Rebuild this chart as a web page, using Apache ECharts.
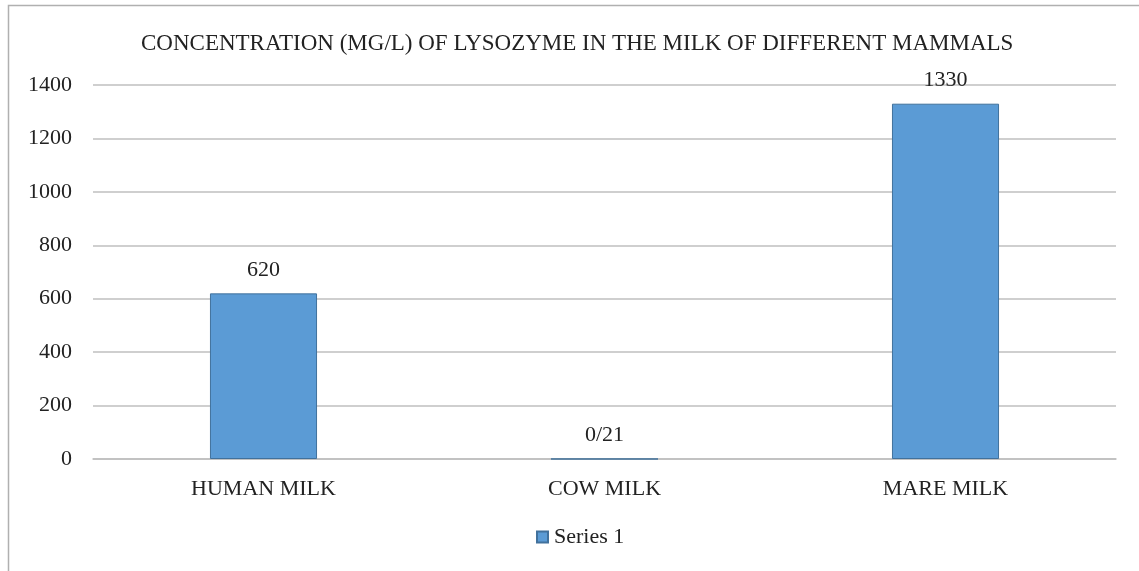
<!DOCTYPE html>
<html>
<head>
<meta charset="utf-8">
<script src="https://cdn.jsdelivr.net/npm/echarts@6/dist/echarts.min.js"></script>
<style>
  html, body { margin: 0; padding: 0; background: #fff; }
  #chart { width: 1139px; height: 571px; }
</style>
</head>
<body>
<div id="chart"></div>
<script>
// Lysozyme concentration (mg/L) by milk source
const categories = ['HUMAN MILK', 'COW MILK', 'MARE MILK'];
const series1 = [620, 0.21, 1330];
const seriesName = 'Series 1';
const titleText = 'CONCENTRATION (MG/L) OF LYSOZYME IN THE MILK OF DIFFERENT MAMMALS';

const serif = '"Liberation Serif", "DejaVu Serif", serif';
const textColor = '#222222';
const fs = 22;

const chart = echarts.init(document.getElementById('chart'));
chart.setOption({
  animation: false,
  backgroundColor: '#fff',
  graphic: [{
    type: 'rect',
    shape: { x: 8.5, y: 5.5, width: 1140, height: 570 },
    style: { fill: 'none', stroke: '#b0b0b0', lineWidth: 1.5 },
    silent: true
  }],
  title: {
    text: titleText,
    left: 136,
    top: 27,
    textStyle: { fontFamily: serif, fontSize: 23, fontWeight: 'normal', color: textColor }
  },
  legend: {
    data: [seriesName],
    top: 521,
    left: 531,
    itemWidth: 11,
    itemHeight: 11,
    icon: 'rect',
    textStyle: { fontFamily: serif, fontSize: fs, color: textColor, padding: [0, 0, 0, 1] }
  },
  grid: { left: 93, right: 23, top: 85, bottom: 112, containLabel: false },
  xAxis: {
    type: 'category',
    data: categories,
    axisLine: { show: true, lineStyle: { color: '#bfbfbf', width: 1.5 } },
    axisTick: { show: false },
    axisLabel: { fontFamily: serif, fontSize: fs, color: textColor, margin: 19 }
  },
  yAxis: {
    type: 'value',
    min: 0,
    max: 1400,
    interval: 200,
    axisLine: { show: false },
    axisTick: { show: false },
    splitLine: { lineStyle: { color: '#bfbfbf', width: 1.5 } },
    axisLabel: { fontFamily: serif, fontSize: fs, color: textColor, margin: 21, formatter: v => String(v) }
  },
  series: [{
    name: seriesName,
    type: 'bar',
    data: series1,
    barWidth: '31.4%',
    itemStyle: { color: '#5b9bd5', borderColor: '#41719c', borderWidth: 1 },
    label: {
      show: true,
      position: 'top',
      distance: 12,
      fontFamily: serif,
      fontSize: fs,
      color: textColor,
      formatter: p => String(p.value).replace('.', '/')
    }
  }]
});
</script>
</body>
</html>
